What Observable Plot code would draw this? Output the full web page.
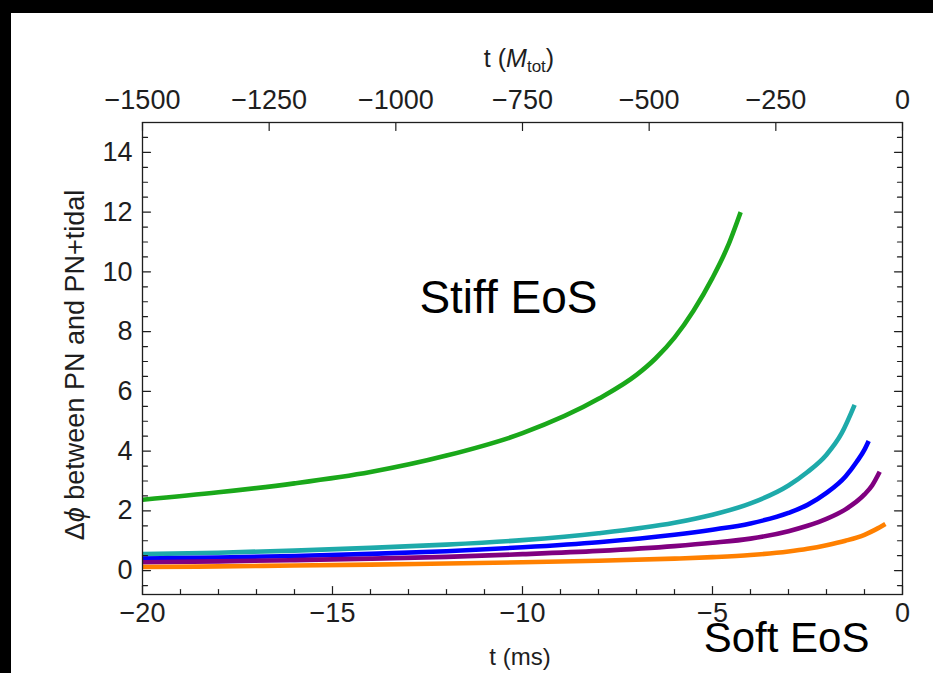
<!DOCTYPE html>
<html><head><meta charset="utf-8">
<script src="https://cdn.jsdelivr.net/npm/d3@7"></script>
<script src="https://cdn.jsdelivr.net/npm/@observablehq/plot@0.6"></script>
<style>
html,body{margin:0;padding:0;background:#000;width:933px;height:673px;overflow:hidden}
#chart{position:absolute;left:11px;top:13px;width:922px;height:660px;background:#fff}
#chart svg{display:block;background:#fff}
</style></head><body><div id="chart"></div>
<script>
// ---- data (t in ms, Δφ in rad) ----
const greenT  = [-20, -18, -16, -14, -12, -10, -8, -7, -6.5, -6, -5.5, -5, -4.6, -4.26];
const greenY  = [2.37, 2.62, 2.92, 3.30, 3.85, 4.60, 5.75, 6.55, 7.10, 7.80, 8.70, 9.80, 10.85, 12.0];
const tealT   = [-20, -18, -16, -14, -12, -10, -8, -6, -5, -4, -3, -2.5, -2, -1.6, -1.26];
const tealY   = [0.55, 0.60, 0.67, 0.76, 0.87, 1.02, 1.25, 1.60, 1.87, 2.25, 2.85, 3.30, 3.88, 4.60, 5.55];
const blueT   = [-20, -18, -16, -14, -12, -10, -8, -6, -5, -4, -3, -2.5, -2, -1.5, -1.2, -1.0, -0.89];
const blueY   = [0.40, 0.44, 0.49, 0.56, 0.65, 0.78, 0.95, 1.20, 1.37, 1.58, 1.93, 2.20, 2.60, 3.15, 3.65, 4.05, 4.34];
const purpleT = [-20, -18, -16, -14, -12, -10, -8, -6, -5, -4, -3, -2.5, -2, -1.5, -1.0, -0.8, -0.6];
const purpleY = [0.28, 0.31, 0.35, 0.40, 0.46, 0.55, 0.66, 0.82, 0.93, 1.07, 1.32, 1.50, 1.73, 2.05, 2.55, 2.85, 3.31];
const orangeT = [-20, -18, -16, -14, -12, -10, -8, -6, -5, -4, -3, -2.5, -2, -1.5, -1.0, -0.7, -0.45];
const orangeY = [0.12, 0.14, 0.17, 0.20, 0.24, 0.28, 0.33, 0.40, 0.45, 0.52, 0.64, 0.73, 0.85, 1.00, 1.20, 1.38, 1.56];

const seriesNames  = ["stiff", "teal", "blue", "purple", "soft"];
const seriesColors = ["#1aa81a", "#1eaaaa", "#0000ff", "#800080", "#ff8000"];

// tick labels
const xMajorTicks = [-20, -15, -10, -5, 0];
const xMinorTicks = d3.range(-19, 0, 1).filter(v => v % 5 !== 0);
const yMajorTicks = [0, 2, 4, 6, 8, 10, 12, 14];
const yMinorTicks = d3.range(-0.5, 15, 0.5).filter(v => v % 2 !== 0);
const mTicks = [-1500, -1250, -1000, -750, -500, -250, 0]; // t in M_tot
const msPerM = 20 / 1500;                                  // -1500 M_tot ↔ -20 ms

const annotations = [
  {text: "Stiff EoS", t: -10.37, phi: 9.13, size: 46},
  {text: "Soft EoS",  t: -3.05,  phi: -2.29, size: 42}
];

// ---- build table ----
const allT = [greenT, tealT, blueT, purpleT, orangeT];
const allY = [greenY, tealY, blueY, purpleY, orangeY];
const rows = [];
seriesNames.forEach((s, k) => allT[k].forEach((t, i) => rows.push({series: s, t, phi: allY[k][i]})));

const minus = v => (v < 0 ? "\u2212" + Math.abs(v) : String(v));
const FONT = "'Liberation Sans', Arial, Helvetica, sans-serif";
const INK = "#1e1e1e";
const tickShape = {draw(context, l) { context.moveTo(0, 0); context.lineTo(0, -l); }};
const tickStyle = {stroke: INK, strokeWidth: 1.2, anchor: "start", shape: tickShape};

const chartSvg = Plot.plot({
  width: 922, height: 660,
  marginLeft: 131, marginRight: 31, marginTop: 109, marginBottom: 79,
  style: {fontFamily: FONT, background: "#fff", color: INK},
  x: {domain: [-20, 0]},
  y: {domain: [-0.8, 15]},
  color: {domain: seriesNames, range: seriesColors},
  marks: [
    Plot.lineY(rows, {x: "t", y: "phi", z: "series", stroke: "series", strokeWidth: 4.6, curve: "monotone-x", strokeLinecap: "butt"}),
    Plot.frame({stroke: INK, strokeWidth: 1.3}),
    // inward ticks
    Plot.vector(yMajorTicks, {y: d => d, frameAnchor: "left",  rotate: 90,  length: 8, ...tickStyle}),
    Plot.vector(yMinorTicks, {y: d => d, frameAnchor: "left",  rotate: 90,  length: 5, ...tickStyle}),
    Plot.vector(yMajorTicks, {y: d => d, frameAnchor: "right", rotate: -90, length: 8, ...tickStyle}),
    Plot.vector(yMinorTicks, {y: d => d, frameAnchor: "right", rotate: -90, length: 5, ...tickStyle}),
    Plot.vector(xMajorTicks, {x: d => d, frameAnchor: "bottom", rotate: 0, length: 8, ...tickStyle}),
    Plot.vector(xMinorTicks, {x: d => d, frameAnchor: "bottom", rotate: 0, length: 5, ...tickStyle}),
    Plot.vector(mTicks, {x: d => d * msPerM, frameAnchor: "top", rotate: 180, length: 8, ...tickStyle}),
    // tick labels
    Plot.axisY({ticks: yMajorTicks, tickSize: 0, tickPadding: 10, fontSize: 27, tickFormat: minus, label: null, fill: INK}),
    Plot.axisX({ticks: xMajorTicks, tickSize: 0, tickPadding: 8, fontSize: 27, tickFormat: minus, label: null, fill: INK}),
    Plot.axisX(mTicks.map(m => m * msPerM), {anchor: "top", tickSize: 0, tickPadding: 14, fontSize: 27,
      tickFormat: d => minus(Math.round(d / msPerM)), label: null, fill: INK}),
    // annotations
    Plot.text(annotations, {x: "t", y: "phi", text: "text", fontSize: d => d.size, fill: "#000", textAnchor: "middle", lineAnchor: "middle", clip: false})
  ]
});
document.getElementById("chart").appendChild(chartSvg);

// axis titles
const svgSel = d3.select(chartSvg);
const topTitle = svgSel.append("text").attr("x", 508).attr("y", 54).attr("text-anchor", "middle")
  .attr("font-family", FONT).attr("font-size", 25).attr("fill", INK);
topTitle.append("tspan").text("t (");
topTitle.append("tspan").attr("font-style", "italic").text("M");
topTitle.append("tspan").attr("font-size", 17).attr("dy", 5).text("tot");
topTitle.append("tspan").attr("dy", -5).text(")");

svgSel.append("text").attr("x", 509).attr("y", 652).attr("text-anchor", "middle")
  .attr("font-family", FONT).attr("font-size", 24).attr("fill", INK).text("t (ms)");

const yTitle = svgSel.append("text").attr("transform", "translate(73,352) rotate(-90)").attr("text-anchor", "middle")
  .attr("font-family", FONT).attr("font-size", 27).attr("fill", INK);
yTitle.append("tspan").text("\u0394");
yTitle.append("tspan").attr("font-style", "italic").text("\u03d5");
yTitle.append("tspan").text(" between PN and PN+tidal");
</script>
</body></html>
